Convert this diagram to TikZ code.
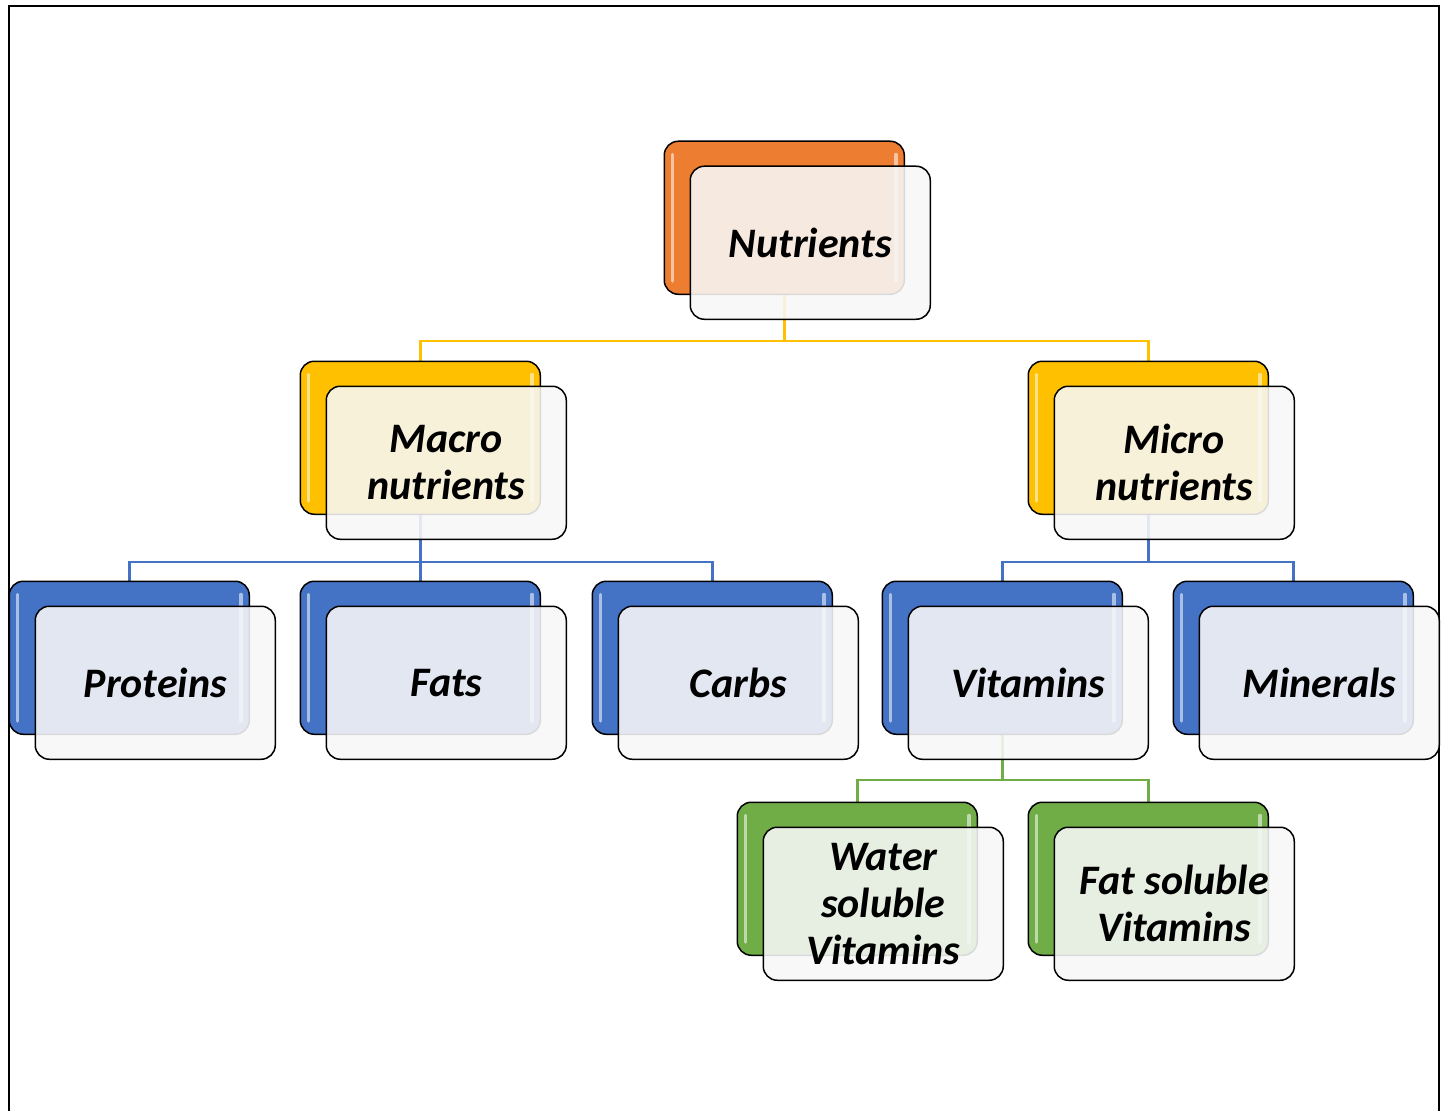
\documentclass[tikz,border=0pt]{standalone}
\usepackage{fontspec}
\setmainfont{Carlito}
\definecolor{cOrange}{HTML}{ED7D31}
\definecolor{cGold}{HTML}{FFC000}
\definecolor{cBlue}{HTML}{4472C4}
\definecolor{cGreen}{HTML}{70AD47}
\definecolor{cFront}{HTML}{F8F8F8}
\pgfdeclarelayer{paper}
\pgfdeclarelayer{bg}
\pgfsetlayers{paper,bg,main}
\tikzset{
  backbox/.style={draw=black, line width=1.5pt, rounded corners=14pt, minimum width=240pt, minimum height=153pt, anchor=north west, inner sep=0pt},
  frontbox/.style={draw=black, line width=1.5pt, rounded corners=14pt, minimum width=240pt, minimum height=153pt, fill=cFront, fill opacity=0.88, text opacity=1, align=center, inner sep=0pt, font=\bfseries\itshape\fontsize{42}{47}\selectfont},
  gloss/.style={white, line width=3.5pt, opacity=0.55, line cap=round},
  con/.style={line width=2.6pt},
}
\newcommand\nutbox[5]{%
  \node[backbox, fill=#4] (#1-b) at (#2,#3) {};
  \draw[gloss] ([xshift=9pt,yshift=-14pt]#1-b.north west) -- ([xshift=9pt,yshift=14pt]#1-b.south west);
  \draw[gloss] ([xshift=-9pt,yshift=-14pt]#1-b.north east) -- ([xshift=-9pt,yshift=14pt]#1-b.south east);
  \node[frontbox] (#1) at ([xshift=26pt,yshift=-25pt]#1-b.center) {#5};
}
\begin{document}
\begin{tikzpicture}[x=1pt,y=-1pt]
\useasboundingbox (0,0) rectangle (1447,1110);
\begin{pgfonlayer}{paper}
\fill[white] (0,0) rectangle (1447,1110);
\end{pgfonlayer}
\draw[line width=2pt] (8.5,1112) -- (8.5,6.5) -- (1439,6.5) -- (1439,1112);

\nutbox{nut}{663.5}{140.5}{cOrange}{Nutrients}
\nutbox{mac}{299.5}{360.5}{cGold}{Macro\\nutrients}
\nutbox{mic}{1027.5}{360.5}{cGold}{Micro\\nutrients}
\nutbox{pro}{8.5}{580.5}{cBlue}{Proteins}
\nutbox{fat}{299.5}{580.5}{cBlue}{Fats}
\nutbox{car}{591.5}{580.5}{cBlue}{Carbs}
\nutbox{vit}{881.5}{580.5}{cBlue}{Vitamins}
\nutbox{min}{1172.5}{580.5}{cBlue}{Minerals}
\nutbox{wat}{736.5}{801.5}{cGreen}{Water\\soluble\\Vitamins}
\nutbox{fsv}{1027.5}{801.5}{cGreen}{Fat soluble\\Vitamins}

\begin{pgfonlayer}{bg}
\draw[con, cGold] (nut-b.south) -- ++(0,46) -| (mac-b.north);
\draw[con, cGold] (nut-b.south) -- ++(0,46) -| (mic-b.north);
\draw[con, cBlue] (mac-b.south) -- ++(0,47) -| (pro-b.north);
\draw[con, cBlue] (mac-b.south) -- ++(0,47) -| (fat-b.north);
\draw[con, cBlue] (mac-b.south) -- ++(0,47) -| (car-b.north);
\draw[con, cBlue] (mic-b.south) -- ++(0,47) -| (vit-b.north);
\draw[con, cBlue] (mic-b.south) -- ++(0,47) -| (min-b.north);
\draw[con, cGreen] (vit-b.south) -- ++(0,45) -| (wat-b.north);
\draw[con, cGreen] (vit-b.south) -- ++(0,45) -| (fsv-b.north);
\end{pgfonlayer}
\end{tikzpicture}
\end{document}
